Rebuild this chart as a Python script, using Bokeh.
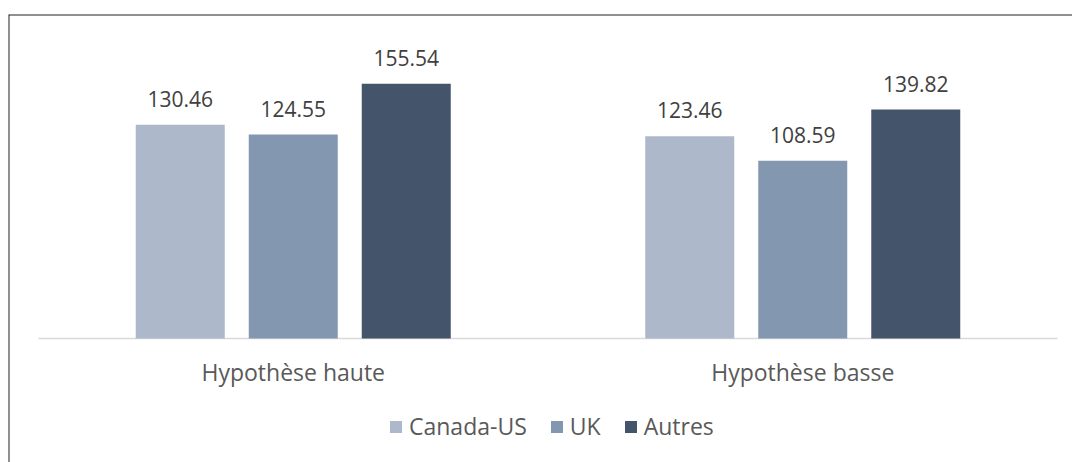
from bokeh.plotting import figure
from bokeh.models import Range1d, Span, Legend, LegendItem, ColumnDataSource
from bokeh.core.properties import value
from bokeh.embed import file_html
from bokeh.resources import INLINE

categories = ["Hypothèse haute", "Hypothèse basse"]
series = ["Canada-US", "UK", "Autres"]
canada_us = [130.46, 123.46]
uk = [124.55, 108.59]
autres = [155.54, 139.82]
colors = ["#ADB9CA", "#8497B0", "#44546A"]

FONT = "Open Sans"
W, H = 1072, 462
LEFT, TOP = 8, 14
px_per_group = 509.5
px_per_unit = 1.6375

x_start = -0.5 - (38 - LEFT) / px_per_group
x_end = x_start + (W - LEFT) / px_per_group
y_end = (338 - TOP) / px_per_unit
y_start = y_end - (H - TOP) / px_per_unit

p = figure(width=W, height=H, output_backend="svg", toolbar_location=None,
           x_range=Range1d(x_start, x_end), y_range=Range1d(y_start, y_end),
           x_axis_location=None, y_axis_location=None,
           min_border_left=LEFT, min_border_right=0, min_border_bottom=0,
           min_border_top=TOP, outline_line_color=None)
p.xgrid.visible = False
p.ygrid.visible = False
p.background_fill_color = "white"
p.border_fill_color = "white"

# category baseline (axis line)
p.segment(x0=[-0.5], x1=[1.5], y0=[0], y1=[0], line_color="#D9D9D9", line_width=1.5)

bar_w = 89 / px_per_group
step = 113 / px_per_group
values = [canada_us, uk, autres]
items = []
for i, (name, vals, col) in enumerate(zip(series, values, colors)):
    xs = [g + (i - 1) * step for g in range(len(categories))]
    src = ColumnDataSource(dict(x=xs, top=vals, lbl=[f"{v:.2f}" for v in vals]))
    r = p.vbar(x="x", top="top", width=bar_w, bottom=0, source=src,
               fill_color=col, line_color=None)
    items.append(LegendItem(label=name, renderers=[r]))
    p.text(x="x", y="top", text="lbl", source=src, text_align="center",
           text_baseline="alphabetic", y_offset=-26, text_color="#404040",
           text_font=value(FONT), text_font_size="21px")

# category labels
p.text(x=list(range(len(categories))), y=[0] * len(categories), text=categories,
       text_align="center", text_baseline="alphabetic", y_offset=33,
       text_color="#595959", text_font=value(FONT), text_font_size="23px")

legend = Legend(items=items, orientation="horizontal", location=(380, 20),
                glyph_width=15, glyph_height=15, label_standoff=6, spacing=22,
                padding=0, margin=0, border_line_color=None,
                background_fill_alpha=0, label_text_font=FONT,
                label_text_font_size="23px", label_text_color="#595959")
p.add_layout(legend)

# outer chart border (left and top visible)
p.add_layout(Span(location=x_start, dimension="height", line_color="#222222", line_width=2))
p.add_layout(Span(location=y_end, dimension="width", line_color="#222222", line_width=2))

open("out.html", "w").write(file_html(p, INLINE))
